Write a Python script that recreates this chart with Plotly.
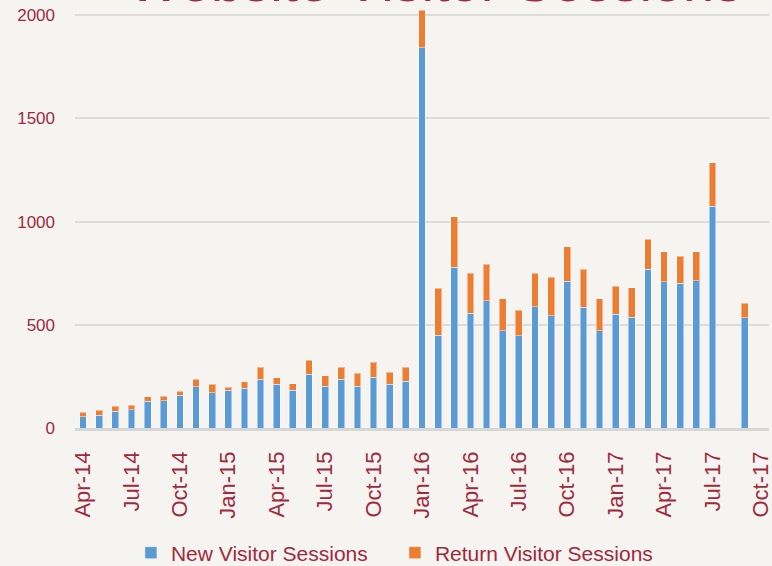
import plotly.graph_objects as go

months = ["Apr-14", "May-14", "Jun-14", "Jul-14", "Aug-14", "Sep-14", "Oct-14", "Nov-14", "Dec-14",
          "Jan-15", "Feb-15", "Mar-15", "Apr-15", "May-15", "Jun-15", "Jul-15", "Aug-15", "Sep-15",
          "Oct-15", "Nov-15", "Dec-15", "Jan-16", "Feb-16", "Mar-16", "Apr-16", "May-16", "Jun-16",
          "Jul-16", "Aug-16", "Sep-16", "Oct-16", "Nov-16", "Dec-16", "Jan-17", "Feb-17", "Mar-17",
          "Apr-17", "May-17", "Jun-17", "Jul-17", "Aug-17", "Sep-17", "Oct-17"]

new_sessions = [55, 61, 81, 89, 129, 132, 158, 200, 171, 182, 192, 236, 211, 182, 260, 202, 236, 202,
                245, 211, 227, 1842, 450, 779, 556, 616, 471, 447, 587, 545, 712, 586, 470, 550, 537,
                768, 708, 702, 713, 1075, None, 534, None]

total_sessions = [76, 86, 105, 110, 152, 153, 178, 237, 213, 198, 223, 294, 244, 215, 328, 252, 294, 265,
                  318, 271, 294, 2023, 677, 1023, 750, 794, 626, 571, 750, 730, 879, 770, 626, 687, 679,
                  915, 855, 831, 853, 1284, None, 605, None]

return_sessions = [None if t is None else t - n for t, n in zip(total_sessions, new_sessions)]

tick_labels = ["Apr-14", "Jul-14", "Oct-14", "Jan-15", "Apr-15", "Jul-15", "Oct-15", "Jan-16",
               "Apr-16", "Jul-16", "Oct-16", "Jan-17", "Apr-17", "Jul-17", "Oct-17"]

y_ticks = [0, 500, 1000, 1500, 2000]

title_text = "Website Visitor Sessions"

RED = "#9E2A3E"
BLUE = "#5B9BD5"
ORANGE = "#ED7D31"
BG = "#F6F4F0"
FONT = "Liberation Sans"

fig = go.Figure()
fig.add_trace(go.Bar(x=months, y=new_sessions, name="New Visitor Sessions",
                     marker=dict(color=BLUE, line=dict(color="rgba(255,255,255,0.45)", width=1))))
fig.add_trace(go.Bar(x=months, y=return_sessions, name="Return Visitor Sessions",
                     marker=dict(color=ORANGE, line=dict(color="rgba(255,255,255,0.45)", width=1))))

fig.update_layout(
    width=772, height=566,
    barmode="stack", bargap=0.58,
    paper_bgcolor=BG, plot_bgcolor=BG,
    margin=dict(l=75, r=3, t=9, b=138, autoexpand=False),
    font=dict(family=FONT, color=RED),
    showlegend=True,
    legend=dict(orientation="h", x=0.461, xanchor="center",
                yref="container", y=(566 - 553) / 566, yanchor="middle",
                font=dict(size=21, color=RED, family=FONT), entrywidth=219,
                bgcolor="rgba(0,0,0,0)", traceorder="normal"),
    annotations=[dict(text=title_text, xref="paper", yref="paper", x=0.519, y=1.066,
                      xanchor="center", yanchor="middle", showarrow=False,
                      font=dict(size=56, color=RED, family=FONT))],
)

fig.update_xaxes(type="category", categoryorder="array", categoryarray=months,
                 range=[-0.5, len(months) - 0.5],
                 tickmode="array", tickvals=tick_labels, ticktext=tick_labels,
                 tickangle=-90, tickfont=dict(size=22, color=RED, family=FONT),
                 ticks="", ticklabelstandoff=12, automargin=False,
                 showgrid=False, showline=True, linecolor="#D6D6D6", linewidth=2.5,
                 zeroline=False)

fig.update_yaxes(range=[0, 2030], tickmode="array", tickvals=y_ticks,
                 tickfont=dict(size=17, color=RED, family=FONT), automargin=False,
                 showgrid=True, gridcolor="#DCDCDC", gridwidth=1.5,
                 zeroline=False, showline=False, ticks="", ticklabelstandoff=19)

fig.write_html("out.html", config={"displayModeBar": False},
               post_script="document.body.style.margin='0';document.body.style.background='" + BG + "';")
